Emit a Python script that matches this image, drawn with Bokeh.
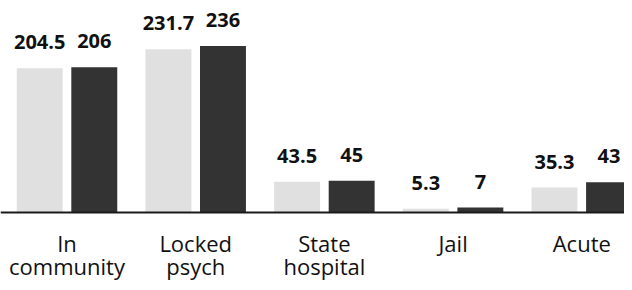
from bokeh.plotting import figure
from bokeh.models import ColumnDataSource, Range1d, LabelSet, Span
from bokeh.core.properties import value
from bokeh.transform import dodge
from bokeh.embed import file_html
from bokeh.resources import INLINE

categories = ["In\ncommunity", "Locked\npsych", "State\nhospital", "Jail", "Acute"]
series_a = [204.5, 231.7, 43.5, 5.3, 35.3]
series_b = [206, 236, 45, 7, 43]
labels_a = ["204.5", "231.7", "43.5", "5.3", "35.3"]
labels_b = ["206", "236", "45", "7", "43"]

xs = list(range(len(categories)))
line1 = [c.split("\n")[0] for c in categories]
line2 = [c.split("\n")[1] if "\n" in c else "" for c in categories]
zeros = [0] * len(categories)
src = ColumnDataSource(dict(x=xs, a=series_a, b=series_b, la=labels_a, lb=labels_b,
                            l1=line1, l2=line2, z=zeros))

p = figure(width=624, height=282, output_backend="svg", toolbar_location=None,
           x_range=Range1d(-0.5167, 4.332), y_range=Range1d(-99.3, 300.7),
           min_border_left=0, min_border_right=0, min_border_top=0,
           min_border_bottom=0)
p.outline_line_color = None
p.grid.visible = False
p.axis.visible = False

p.vbar(x=dodge('x', -0.212, range=p.x_range), top='a', width=0.357, source=src,
       fill_color="#e0e0e0", line_color=None)
p.vbar(x=dodge('x', 0.212, range=p.x_range), top='b', width=0.357, source=src,
       fill_color="#333333", line_color=None)

p.add_layout(Span(location=0, dimension="width", line_color="#1a1a1a", line_width=2))

for fld, top, off in (("la", "a", -0.212), ("lb", "b", 0.212)):
    p.add_layout(LabelSet(x=dodge('x', off, range=p.x_range), y=top, text=fld, source=src,
                          y_offset=19, text_align="center", text_baseline="alphabetic",
                          text_font=value("Open Sans"), text_font_style="bold",
                          text_font_size="20px", text_color="#111111"))

for fld, off in (("l1", -40), ("l2", -63)):
    p.add_layout(LabelSet(x='x', y='z', text=fld, source=src,
                          y_offset=off, text_align="center", text_baseline="alphabetic",
                          text_font=value("Open Sans"), text_font_size="22px",
                          text_color="#111111"))

open("out.html", "w").write(file_html(p, INLINE))
